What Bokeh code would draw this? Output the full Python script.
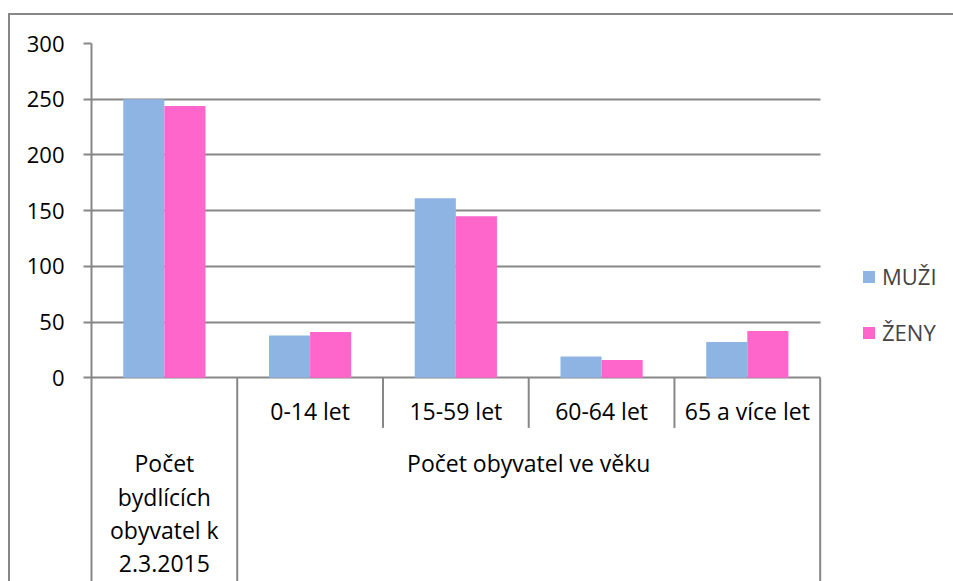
from bokeh.plotting import figure
from bokeh.models import (Range1d, ColumnDataSource, Legend, LegendItem, FixedTicker)
from bokeh.core.properties import value
from bokeh.embed import file_html
from bokeh.resources import INLINE

# ---- data ----
categories = ["Počet\nbydlících\nobyvatel k\n2.3.2015", "0-14 let", "15-59 let",
              "60-64 let", "65 a více let"]
group_label = "Počet obyvatel ve věku"
muzi = [250, 38, 161, 19, 32]
zeny = [244, 41, 145, 16, 42]
y_ticks = [0, 50, 100, 150, 200, 250, 300]
series_names = ["MUŽI", "ŽENY"]
colors = ["#8EB4E3", "#FF66CC"]

# ---- geometry / style ----
FONT = "Open Sans"
FS = "22px"
FS_CAT = "23px"
GRAY = "#878787"
W, H = 945, 568
ML, MT = 81, 28
frame_h = H - 2 - MT
px_per_unit = 333 / 300.0
y_top = 300
y_bottom = y_top - frame_h / px_per_unit
n = len(categories)
cat_px = 145.4
x_end = n + 135 / cat_px


def py(off):
    # offset (px) below the zero line -> data units
    return -off / px_per_unit


pos = [i + 0.5 for i in range(n)]
bw = 0.282
src = ColumnDataSource(dict(xm=[x - bw / 2 for x in pos], xz=[x + bw / 2 for x in pos],
                            muzi=muzi, zeny=zeny))

p = figure(width=W, height=H, output_backend="svg", toolbar_location=None,
           x_range=Range1d(0, x_end), y_range=Range1d(y_bottom, y_top),
           x_axis_location=None,
           min_border_left=ML, min_border_right=0, min_border_top=MT,
           min_border_bottom=0)
p.outline_line_color = None
p.styles = {"border-top": f"2px solid {GRAY}", "border-left": f"2px solid {GRAY}",
            "margin-top": "13px", "margin-left": "8px"}

r1 = p.vbar(x="xm", top="muzi", width=bw, source=src, fill_color=colors[0], line_color=None)
r2 = p.vbar(x="xz", top="zeny", width=bw, source=src, fill_color=colors[1], line_color=None)

# y axis / grid
ax = p.yaxis[0]
ax.ticker = FixedTicker(ticks=y_ticks)
ax.axis_line_color = GRAY
ax.axis_line_width = 2
ax.major_tick_out = 8
ax.major_tick_in = 0
ax.major_tick_line_color = GRAY
ax.major_tick_line_width = 2
ax.minor_tick_line_color = None
ax.major_label_standoff = 19
ax.major_label_text_font = FONT
ax.major_label_text_font_size = FS
ax.major_label_text_color = "black"
p.ygrid.grid_line_color = GRAY
p.ygrid.grid_line_width = 2
p.ygrid.cross_bounds = (0, n)
p.xgrid.grid_line_color = None

# category separators
short_x = list(range(2, n))
p.segment(x0=short_x, x1=short_x, y0=0, y1=py(50), line_color=GRAY, line_width=2)
full_x = [1, n]
p.segment(x0=full_x, x1=full_x, y0=0, y1=y_bottom, line_color=GRAY, line_width=2)

# category labels
p.text(x=pos[1:], y=py(33), text=categories[1:], text_font=value(FONT),
       text_font_size=FS_CAT, text_align="center", text_baseline="middle",
       text_color="black")
p.text(x=[(1 + n) / 2], y=py(85), text=[group_label], text_font=value(FONT),
       text_font_size=FS_CAT, text_align="center", text_baseline="middle",
       text_color="black")
p.text(x=[pos[0]], y=py(135), text=[categories[0]], text_font=value(FONT),
       text_font_size=FS_CAT, text_align="center", text_baseline="middle",
       text_line_height=1.04, text_color="black")

legend = Legend(items=[LegendItem(label=series_names[0], renderers=[r1]),
                       LegendItem(label=series_names[1], renderers=[r2])],
                location=(770, 236), glyph_width=15, glyph_height=15,
                label_standoff=6, spacing=26, padding=0, margin=0,
                border_line_color=None, background_fill_alpha=0,
                label_text_font=FONT, label_text_font_size=FS,
                label_text_baseline="middle")
p.add_layout(legend)

open("out.html", "w").write(file_html(p, INLINE))
